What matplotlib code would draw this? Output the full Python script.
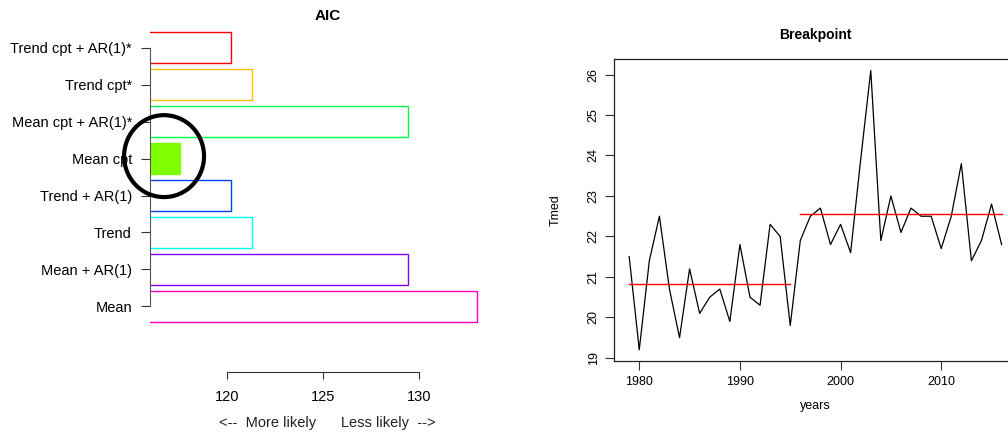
import numpy as np
import matplotlib
matplotlib.use("Agg")
import matplotlib.pyplot as plt
from matplotlib.patches import Ellipse

plt.rcParams['font.family'] = ['Liberation Sans', 'DejaVu Sans']

# AIC panel data (bottom to top)
models = ["Mean", "Mean + AR(1)", "Trend", "Trend + AR(1)", "Mean cpt",
          "Mean cpt + AR(1)*", "Trend cpt*", "Trend cpt + AR(1)*"]
aic = [133.0, 129.4, 121.3, 120.2, 117.6, 129.4, 121.3, 120.2]
colors = ["#FF00BF", "#8000FF", "#00FFFF", "#0040FF", "#80FF00",
          "#00FF40", "#FFBF00", "#FF0000"]
aic_ticks = [120, 125, 130]

# Breakpoint panel data
years = np.arange(1979, 2017)
tmed = [21.5, 19.2, 21.4, 22.5, 20.7, 19.5, 21.2, 20.1, 20.5, 20.7,
        19.9, 21.8, 20.5, 20.3, 22.3, 22.0, 19.8, 21.9, 22.5, 22.7,
        21.8, 22.3, 21.6, 23.9, 26.1, 21.9, 23.0, 22.1, 22.7, 22.5,
        22.5, 21.7, 22.5, 23.8, 21.4, 21.9, 22.8, 21.8]
break_year = 1995
year_ticks = [1980, 1990, 2000, 2010]

W, H = 1008, 432
fig = plt.figure(figsize=(W / 100, H / 100), dpi=100)

def px_axes(left, top, right, bottom):
    return fig.add_axes([left / W, 1 - bottom / H, (right - left) / W, (bottom - top) / H])

# ---------------- AIC barplot ----------------
ax1 = px_axes(150, 20, 505, 371.7)
pos = 0.7 + 1.2 * np.arange(len(models))
best = int(np.argmin(aic))
for i, (v, c) in enumerate(zip(aic, colors)):
    if i == best:
        ax1.barh(pos[i], v, height=1.0, color=c, edgecolor=c, linewidth=1.0)
    else:
        ax1.barh(pos[i], v, height=1.0, facecolor="none", edgecolor=c, linewidth=1.0)
ax1.set_xlim(116.02, 134.45)
ax1.set_ylim(-1.42, 10.0)
ax1.set_yticks(pos)
ax1.set_yticklabels(models, fontsize=10.5)
ax1.set_xticks(aic_ticks)
ax1.set_xticklabels([str(t) for t in aic_ticks], fontsize=10.5)
for s in ["top", "right"]:
    ax1.spines[s].set_visible(False)
ax1.spines["left"].set_bounds(pos[0], pos[-1])
ax1.spines["bottom"].set_bounds(aic_ticks[0], aic_ticks[-1])
ax1.spines["left"].set_color("#555555")
ax1.spines["bottom"].set_color("#333333")
ax1.tick_params(axis="y", length=6.5, pad=6.5, color="#333333")
ax1.tick_params(axis="x", length=5, pad=8, color="#333333")
ax1.set_xlabel("<--  More likely      Less likely  -->", fontsize=10.5, color="#222222")
ax1.xaxis.set_label_coords(0.5, (371.7 - 423) / 351.7)
ax1.xaxis.label.set_va("center")
ax1.set_title("AIC", fontsize=11, fontweight="bold", y=1 + 4 / 351.7, va="center", pad=0)

# highlight circle around the best model
x0 = ax1.get_xlim()[0]
ax1.add_patch(Ellipse((x0 + 0.73, pos[best] + 0.08), 4.15, 2.66, fill=False,
                      edgecolor="black", linewidth=3, clip_on=False, zorder=5))

# ---------------- Breakpoint line plot ----------------
ax2 = px_axes(614.3, 59.3, 1016.5, 361)
ax2.plot(years, tmed, color="black", linewidth=0.9)
tmed_arr = np.array(tmed)
seg1 = years <= break_year
seg2 = years > break_year
ax2.plot([years[seg1][0], years[seg1][-1]], [tmed_arr[seg1].mean()] * 2, color="red", linewidth=1.0)
ax2.plot([years[seg2][0], years[seg2][-1]], [tmed_arr[seg2].mean()] * 2, color="red", linewidth=1.0)
ax2.margins(x=0.04, y=0.04)
ax2.set_xticks(year_ticks)
ax2.set_yticks(range(19, 27))
ax2.tick_params(axis="both", labelsize=9, length=6.5, color="#333333")
ax2.tick_params(axis="y", labelrotation=90, pad=4)
ax2.tick_params(axis="x", pad=4)
for lab in ax2.get_yticklabels():
    lab.set_va("center")
for s in ax2.spines.values():
    s.set_color("#222222")
    s.set_linewidth(0.9)
ax2.set_xlabel("years", fontsize=9)
ax2.xaxis.set_label_coords(0.5, (361 - 405.7) / 301.7)
ax2.xaxis.label.set_va("center")
ax2.set_ylabel("Tmed", fontsize=9)
ax2.yaxis.set_label_coords((561.7 - 614.3) / 402.2, 0.5)
ax2.yaxis.label.set_ha("center")
ax2.set_title("Breakpoint", fontsize=10, fontweight="bold", y=1 + 24.3 / 301.7, va="center", pad=0)

fig.savefig("out.png", dpi=100)
